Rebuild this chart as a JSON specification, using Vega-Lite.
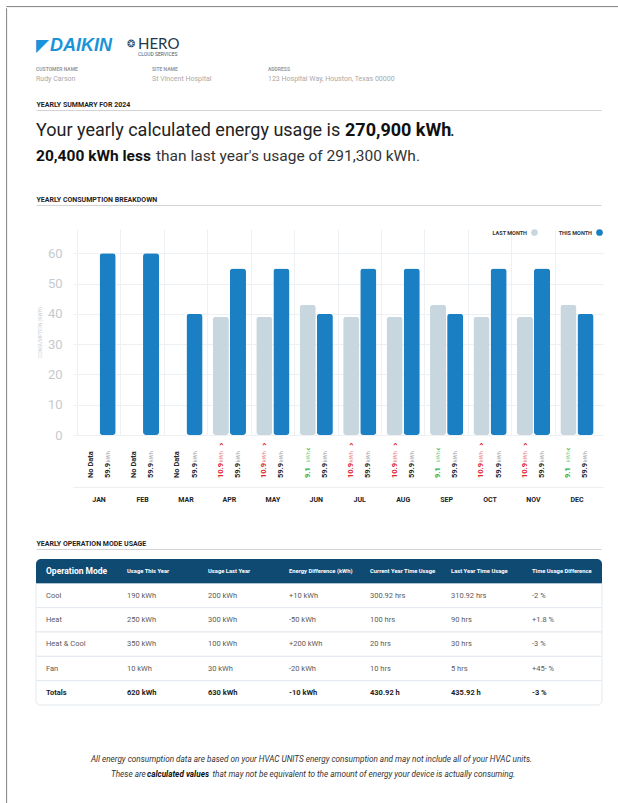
{
  "$schema": "https://vega.github.io/schema/vega-lite/v6.json",
  "background": "#ffffff",
  "padding": {"left": 5, "top": 5, "right": 0, "bottom": 0},
  "config": {"view": {"stroke": null}, "font": "Roboto", "concat": {"spacing": 0}},
  "datasets": {
    "blank": [{}],
    "logos": [{"brand": "DAIKIN", "tagline": ""}, {"brand": "HERO", "tagline": "CLOUD SERVICES"}],
    "customer": [
      {"field": "CUSTOMER NAME", "value": "Rudy Carson"},
      {"field": "SITE NAME", "value": "St Vincent Hospital"},
      {"field": "ADDRESS", "value": "123 Hospital Way, Houston, Texas 00000"}
    ],
    "summary": [{"usageText": "Your yearly calculated energy usage is", "usage": "270,900 kWh", "diffText": "20,400 kWh less", "compareText": "than last year's usage of 291,300 kWh."}],
    "monthly": [
      {"month": "JAN", "series": "Last Month", "kwh": null, "label": "No Data", "unit": "", "trend": "none"},
      {"month": "JAN", "series": "This Month", "kwh": 60, "label": "59.9", "unit": "kWh", "trend": "current"},
      {"month": "FEB", "series": "Last Month", "kwh": null, "label": "No Data", "unit": "", "trend": "none"},
      {"month": "FEB", "series": "This Month", "kwh": 60, "label": "59.9", "unit": "kWh", "trend": "current"},
      {"month": "MAR", "series": "Last Month", "kwh": null, "label": "No Data", "unit": "", "trend": "none"},
      {"month": "MAR", "series": "This Month", "kwh": 40, "label": "59.9", "unit": "kWh", "trend": "current"},
      {"month": "APR", "series": "Last Month", "kwh": 39, "label": "10.9", "unit": "kWh", "trend": "up"},
      {"month": "APR", "series": "This Month", "kwh": 55, "label": "59.9", "unit": "kWh", "trend": "current"},
      {"month": "MAY", "series": "Last Month", "kwh": 39, "label": "10.9", "unit": "kWh", "trend": "up"},
      {"month": "MAY", "series": "This Month", "kwh": 55, "label": "59.9", "unit": "kWh", "trend": "current"},
      {"month": "JUN", "series": "Last Month", "kwh": 43, "label": "9.1", "unit": "kWh", "trend": "down"},
      {"month": "JUN", "series": "This Month", "kwh": 40, "label": "59.9", "unit": "kWh", "trend": "current"},
      {"month": "JUL", "series": "Last Month", "kwh": 39, "label": "10.9", "unit": "kWh", "trend": "up"},
      {"month": "JUL", "series": "This Month", "kwh": 55, "label": "59.9", "unit": "kWh", "trend": "current"},
      {"month": "AUG", "series": "Last Month", "kwh": 39, "label": "10.9", "unit": "kWh", "trend": "up"},
      {"month": "AUG", "series": "This Month", "kwh": 55, "label": "59.9", "unit": "kWh", "trend": "current"},
      {"month": "SEP", "series": "Last Month", "kwh": 43, "label": "9.1", "unit": "kWh", "trend": "down"},
      {"month": "SEP", "series": "This Month", "kwh": 40, "label": "59.9", "unit": "kWh", "trend": "current"},
      {"month": "OCT", "series": "Last Month", "kwh": 39, "label": "10.9", "unit": "kWh", "trend": "up"},
      {"month": "OCT", "series": "This Month", "kwh": 55, "label": "59.9", "unit": "kWh", "trend": "current"},
      {"month": "NOV", "series": "Last Month", "kwh": 39, "label": "10.9", "unit": "kWh", "trend": "up"},
      {"month": "NOV", "series": "This Month", "kwh": 55, "label": "59.9", "unit": "kWh", "trend": "current"},
      {"month": "DEC", "series": "Last Month", "kwh": 43, "label": "9.1", "unit": "kWh", "trend": "down"},
      {"month": "DEC", "series": "This Month", "kwh": 40, "label": "59.9", "unit": "kWh", "trend": "current"}
    ],
    "modes": [
      {"row": "Header", "col": "Operation Mode", "value": "Operation Mode"},
      {"row": "Header", "col": "Usage This Year", "value": "Usage This Year"},
      {"row": "Header", "col": "Usage Last Year", "value": "Usage Last Year"},
      {"row": "Header", "col": "Energy Difference (kWh)", "value": "Energy Difference (kWh)"},
      {"row": "Header", "col": "Current Year Time Usage", "value": "Current Year Time Usage"},
      {"row": "Header", "col": "Last Year Time Usage", "value": "Last Year Time Usage"},
      {"row": "Header", "col": "Time Usage Difference", "value": "Time Usage Difference"},
      {"row": "Cool", "col": "Operation Mode", "value": "Cool"},
      {"row": "Cool", "col": "Usage This Year", "value": "190 kWh"},
      {"row": "Cool", "col": "Usage Last Year", "value": "200 kWh"},
      {"row": "Cool", "col": "Energy Difference (kWh)", "value": "+10 kWh"},
      {"row": "Cool", "col": "Current Year Time Usage", "value": "300.92 hrs"},
      {"row": "Cool", "col": "Last Year Time Usage", "value": "310.92 hrs"},
      {"row": "Cool", "col": "Time Usage Difference", "value": "-2 %"},
      {"row": "Heat", "col": "Operation Mode", "value": "Heat"},
      {"row": "Heat", "col": "Usage This Year", "value": "250 kWh"},
      {"row": "Heat", "col": "Usage Last Year", "value": "300 kWh"},
      {"row": "Heat", "col": "Energy Difference (kWh)", "value": "-50 kWh"},
      {"row": "Heat", "col": "Current Year Time Usage", "value": "100 hrs"},
      {"row": "Heat", "col": "Last Year Time Usage", "value": "90 hrs"},
      {"row": "Heat", "col": "Time Usage Difference", "value": "+1.8 %"},
      {"row": "Heat & Cool", "col": "Operation Mode", "value": "Heat & Cool"},
      {"row": "Heat & Cool", "col": "Usage This Year", "value": "350 kWh"},
      {"row": "Heat & Cool", "col": "Usage Last Year", "value": "100 kWh"},
      {"row": "Heat & Cool", "col": "Energy Difference (kWh)", "value": "+200 kWh"},
      {"row": "Heat & Cool", "col": "Current Year Time Usage", "value": "20 hrs"},
      {"row": "Heat & Cool", "col": "Last Year Time Usage", "value": "30 hrs"},
      {"row": "Heat & Cool", "col": "Time Usage Difference", "value": "-3 %"},
      {"row": "Fan", "col": "Operation Mode", "value": "Fan"},
      {"row": "Fan", "col": "Usage This Year", "value": "10 kWh"},
      {"row": "Fan", "col": "Usage Last Year", "value": "30 kWh"},
      {"row": "Fan", "col": "Energy Difference (kWh)", "value": "-20 kWh"},
      {"row": "Fan", "col": "Current Year Time Usage", "value": "10 hrs"},
      {"row": "Fan", "col": "Last Year Time Usage", "value": "5 hrs"},
      {"row": "Fan", "col": "Time Usage Difference", "value": "+45- %"},
      {"row": "Totals", "col": "Operation Mode", "value": "Totals"},
      {"row": "Totals", "col": "Usage This Year", "value": "620 kWh"},
      {"row": "Totals", "col": "Usage Last Year", "value": "630 kWh"},
      {"row": "Totals", "col": "Energy Difference (kWh)", "value": "-10 kWh"},
      {"row": "Totals", "col": "Current Year Time Usage", "value": "430.92 h"},
      {"row": "Totals", "col": "Last Year Time Usage", "value": "435.92 h"},
      {"row": "Totals", "col": "Time Usage Difference", "value": "-3 %"}
    ],
    "footer": [{"line1": "All energy consumption data are based on your HVAC UNITS energy consumption and may not include all of your HVAC units.", "pre": "These are", "bold": "calculated values", "post": "that may not be equivalent to the amount of energy your device is actually consuming."}]
  },
  "spacing": 0,
  "vconcat": [
    {"width": 613, "height": 0.1, "view": {"stroke": "#8c8c8c"}, "data": {"name": "blank"}, "mark": {"type": "text", "text": "", "fontSize": 0}, "encoding": {}},
    {
      "spacing": 28,
      "hconcat": [
        {"width": 0.1, "height": 798, "view": {"stroke": "#8c8c8c"}, "data": {"name": "blank"}, "mark": {"type": "text", "text": "", "fontSize": 0}, "encoding": {}},
        {
          "spacing": 0,
          "vconcat": [
            {
              "width": 565, "height": 52,
              "data": {"name": "logos"},
              "encoding": {"x": {"field": "brand", "type": "nominal", "scale": {"type": "point", "domain": ["DAIKIN", "HERO"], "range": [14, 102], "padding": 0}, "axis": null}},
              "layer": [
                {"transform": [{"filter": "datum.brand == 'DAIKIN'"}], "mark": {"type": "text", "text": "◤", "font": "DejaVu Sans", "fontSize": 17, "color": "#1a93d8", "align": "left", "baseline": "middle", "dx": -14, "dy": 12}},
                {"transform": [{"filter": "datum.brand == 'DAIKIN'"}], "mark": {"type": "text", "font": "Liberation Sans", "fontSize": 18, "fontWeight": "bold", "fontStyle": "italic", "color": "#1a93d8", "align": "left", "baseline": "middle", "dy": 12}, "encoding": {"text": {"field": "brand"}}},
                {"transform": [{"filter": "datum.brand == 'HERO'"}], "mark": {"type": "text", "text": "❂", "font": "DejaVu Sans", "fontSize": 10, "color": "#22384d", "align": "left", "baseline": "middle", "dx": -11, "dy": 10}},
                {"transform": [{"filter": "datum.brand == 'HERO'"}], "mark": {"type": "text", "font": "Lato", "fontSize": 15, "color": "#22384d", "align": "left", "baseline": "middle", "dy": 10}, "encoding": {"text": {"field": "brand"}}},
                {"transform": [{"filter": "datum.brand == 'HERO'"}], "mark": {"type": "text", "fontSize": 5, "color": "#4a5b6b", "align": "left", "baseline": "middle", "dy": 20}, "encoding": {"text": {"field": "tagline"}}}
              ]
            },
            {
              "width": 565, "height": 40,
              "data": {"name": "customer"},
              "encoding": {"x": {"field": "field", "type": "nominal", "scale": {"type": "point", "domain": ["CUSTOMER NAME", "SITE NAME", "ADDRESS"], "range": [0, 232], "padding": 0}, "axis": null}},
              "layer": [
                {"mark": {"type": "text", "align": "left", "baseline": "middle", "dy": -11, "fontSize": 5, "fontWeight": "bold", "color": "#9b9b9b"}, "encoding": {"text": {"field": "field"}}},
                {"mark": {"type": "text", "align": "left", "baseline": "middle", "dy": -1, "fontSize": 7, "color": "#a9a9a9"}, "encoding": {"text": {"field": "value"}}}
              ]
            },
            {
              "width": 565, "height": 95,
              "data": {"name": "summary"},
              "encoding": {"x": {"datum": 0, "type": "quantitative", "scale": {"domain": [0, 1], "nice": false}, "axis": {"orient": "top", "offset": -10, "domain": true, "domainColor": "#d3d3d3", "ticks": false, "labels": false, "grid": false, "title": "YEARLY SUMMARY FOR 2024", "titleAnchor": "start", "titleAlign": "left", "titleFontSize": 7, "titleFontWeight": "bold", "titleColor": "#1e1e1e", "titlePadding": 3}}},
              "layer": [
                {"mark": {"type": "text", "align": "left", "baseline": "middle", "fontSize": 18, "color": "#222222", "dy": -16.5}, "encoding": {"text": {"field": "usageText"}}},
                {"mark": {"type": "text", "align": "left", "baseline": "middle", "fontSize": 18, "fontWeight": "bold", "color": "#111111", "dx": 309, "dy": -16.5}, "encoding": {"text": {"field": "usage"}}},
                {"mark": {"type": "text", "text": ".", "align": "left", "baseline": "middle", "fontSize": 18, "color": "#222222", "dx": 414, "dy": -16.5}},
                {"mark": {"type": "text", "align": "left", "baseline": "middle", "fontSize": 15.5, "fontWeight": "bold", "color": "#111111", "dy": 8.5}, "encoding": {"text": {"field": "diffText"}}},
                {"mark": {"type": "text", "align": "left", "baseline": "middle", "fontSize": 15.5, "color": "#333333", "dx": 120, "dy": 8.5}, "encoding": {"text": {"field": "compareText"}}}
              ]
            },
            {
              "width": 565, "height": 33,
              "data": {"name": "blank"},
              "mark": {"type": "text", "text": "", "fontSize": 0},
              "encoding": {"x": {"datum": 0, "type": "quantitative", "scale": {"domain": [0, 1], "nice": false}, "axis": {"orient": "top", "offset": -9, "domain": true, "domainColor": "#d3d3d3", "ticks": false, "labels": false, "grid": false, "title": "YEARLY CONSUMPTION BREAKDOWN", "titleAnchor": "start", "titleAlign": "left", "titleFontSize": 7, "titleFontWeight": "bold", "titleColor": "#1e1e1e", "titlePadding": 3}}}
            },
            {
              "spacing": 0,
              "hconcat": [
                {"width": 0.1, "height": 0.1, "data": {"name": "blank"}, "mark": {"type": "text", "text": "", "fontSize": 0}, "encoding": {}},
                {
                  "width": 530, "height": 206,
                  "data": {"name": "monthly"},
                  "encoding": {
                    "x": {"field": "month", "type": "ordinal", "sort": ["JAN", "FEB", "MAR", "APR", "MAY", "JUN", "JUL", "AUG", "SEP", "OCT", "NOV", "DEC"], "scale": {"paddingInner": 0, "paddingOuter": 0.1}, "axis": null},
                    "xOffset": {"field": "series", "type": "nominal", "sort": ["Last Month", "This Month"], "scale": {"paddingInner": 0.06, "paddingOuter": 0.3}}
                  },
                  "layer": [
                    {
                      "transform": [{"filter": "isValid(datum.kwh)"}],
                      "mark": {"type": "bar", "cornerRadius": 3},
                      "encoding": {
                        "x": {"field": "month", "type": "ordinal", "sort": ["JAN", "FEB", "MAR", "APR", "MAY", "JUN", "JUL", "AUG", "SEP", "OCT", "NOV", "DEC"], "scale": {"paddingInner": 0, "paddingOuter": 0.1}, "axis": {"orient": "bottom", "offset": 52, "title": null, "labelAngle": 0, "labelFontSize": 7, "labelFontWeight": "bold", "labelColor": "#222222", "labelPadding": 8, "ticks": false, "domainColor": "#eceff1", "grid": false}},
                        "y": {"field": "kwh", "type": "quantitative", "scale": {"domain": [0, 68], "nice": false}, "axis": {"values": [0, 10, 20, 30, 40, 50, 60], "domain": false, "ticks": false, "grid": true, "gridColor": "#eef1f3", "labelFontSize": 13, "labelColor": "#c3cbd1", "labelPadding": 11, "title": "CONSUMPTION (KWH)", "titleFontSize": 5, "titleFontWeight": "normal", "titleColor": "#c8d0d6", "titlePadding": 4.5}},
                        "color": {"field": "series", "type": "nominal", "scale": {"domain": ["Last Month", "This Month"], "range": ["#c8d7df", "#1b7fc4"]}, "legend": {"orient": "top-right", "offset": 0, "direction": "horizontal", "title": null, "labelAlign": "right", "labelOffset": -11, "labelFontSize": 5.5, "labelFontWeight": "bold", "labelColor": "#333333", "symbolType": "circle", "symbolSize": 45, "symbolStrokeWidth": 0, "columnPadding": 20, "labelExpr": "upper(datum.label)", "padding": 0}}
                      }
                    },
                    {
                      "mark": {"type": "text", "angle": 270, "align": "left", "baseline": "middle", "dx": -43, "fontSize": 7.5, "fontWeight": "bold"},
                      "encoding": {
                        "x": {"field": "month", "type": "ordinal", "sort": ["JAN", "FEB", "MAR", "APR", "MAY", "JUN", "JUL", "AUG", "SEP", "OCT", "NOV", "DEC"], "scale": {"paddingInner": 0, "paddingOuter": 0.1}, "axis": {"orient": "top", "grid": true, "gridColor": "#eef1f3", "bandPosition": 0, "labels": false, "ticks": false, "domain": false, "title": null}},
                        "y": {"datum": 0, "type": "quantitative", "axis": null},
                        "text": {"field": "label"},
                        "color": {"field": "trend", "type": "nominal", "scale": {"domain": ["none", "current", "up", "down"], "range": ["#262626", "#262626", "#e0282c", "#35b24a"]}, "legend": null}
                      }
                    },
                    {
                      "transform": [{"filter": "datum.unit != ''"}],
                      "mark": {"type": "text", "angle": 270, "align": "left", "baseline": "middle", "dx": -27, "fontSize": 5.5},
                      "encoding": {
                        "y": {"datum": 0, "type": "quantitative", "axis": null},
                        "text": {"field": "unit"},
                        "color": {"field": "trend", "type": "nominal", "scale": {"domain": ["none", "current", "up", "down"], "range": ["#9aa0a6", "#9aa0a6", "#ea7a7a", "#7fcf86"]}, "legend": null}
                      }
                    },
                    {
                      "transform": [{"filter": "datum.trend == 'up'"}],
                      "mark": {"type": "text", "text": "›", "font": "DejaVu Sans", "angle": 270, "align": "left", "baseline": "middle", "dx": -11, "fontSize": 9, "fontWeight": "bold", "color": "#e0282c"},
                      "encoding": {"y": {"datum": 0, "type": "quantitative", "axis": null}}
                    },
                    {
                      "transform": [{"filter": "datum.trend == 'down'"}],
                      "mark": {"type": "text", "text": "‹", "font": "DejaVu Sans", "angle": 270, "align": "left", "baseline": "middle", "dx": -16, "fontSize": 9, "fontWeight": "bold", "color": "#35b24a"},
                      "encoding": {"y": {"datum": 0, "type": "quantitative", "axis": null}}
                    }
                  ],
                  "resolve": {"scale": {"color": "independent"}, "axis": {"x": "independent", "y": "independent"}}
                }
              ]
            },
            {
              "width": 565, "height": 57,
              "data": {"name": "blank"},
              "mark": {"type": "text", "text": "", "fontSize": 0},
              "encoding": {"x": {"datum": 0, "type": "quantitative", "scale": {"domain": [0, 1], "nice": false}, "axis": {"orient": "top", "offset": -47, "domain": true, "domainColor": "#d3d3d3", "ticks": false, "labels": false, "grid": false, "title": "YEARLY OPERATION MODE USAGE", "titleAnchor": "start", "titleAlign": "left", "titleFontSize": 7, "titleFontWeight": "bold", "titleColor": "#1e1e1e", "titlePadding": 3}}}
            },
            {
              "width": 566, "height": 146,
              "data": {"name": "modes"},
              "encoding": {
                "y": {"field": "row", "type": "nominal", "sort": ["Header", "Cool", "Heat", "Heat & Cool", "Fan", "Totals"], "scale": {"paddingInner": 0, "paddingOuter": 0}, "axis": null}
              },
              "layer": [
                {"transform": [{"filter": "datum.col == 'Operation Mode' && datum.row != 'Header' && datum.row != 'Totals'"}], "mark": {"type": "rect", "fill": "#ffffff", "stroke": "#e3e9ee", "strokeWidth": 1}},
                {"transform": [{"filter": "datum.col == 'Operation Mode' && datum.row == 'Totals'"}], "mark": {"type": "rect", "fill": "#ffffff", "stroke": "#e3e9ee", "strokeWidth": 1, "cornerRadiusBottomLeft": 4, "cornerRadiusBottomRight": 4}},
                {"transform": [{"filter": "datum.col == 'Operation Mode' && datum.row == 'Header'"}], "mark": {"type": "rect", "fill": "#0f4a73", "cornerRadiusTopLeft": 5, "cornerRadiusTopRight": 5}},
                {
                  "transform": [{"filter": "datum.row == 'Header' && datum.col == 'Operation Mode'"}],
                  "mark": {"type": "text", "align": "left", "baseline": "middle", "fontSize": 8.5, "fontWeight": "bold", "color": "#ffffff"},
                  "encoding": {"x": {"field": "col", "type": "nominal", "sort": ["Operation Mode", "Usage This Year", "Usage Last Year", "Energy Difference (kWh)", "Current Year Time Usage", "Last Year Time Usage", "Time Usage Difference"], "scale": {"type": "point", "range": [10, 496], "padding": 0}, "axis": null}, "text": {"field": "value"}}
                },
                {
                  "transform": [{"filter": "datum.row == 'Header' && datum.col != 'Operation Mode'"}],
                  "mark": {"type": "text", "align": "left", "baseline": "middle", "fontSize": 5.8, "fontWeight": "bold", "color": "#ffffff"},
                  "encoding": {"x": {"field": "col", "type": "nominal", "sort": ["Operation Mode", "Usage This Year", "Usage Last Year", "Energy Difference (kWh)", "Current Year Time Usage", "Last Year Time Usage", "Time Usage Difference"], "scale": {"type": "point", "range": [10, 496], "padding": 0}, "axis": null}, "text": {"field": "value"}}
                },
                {
                  "transform": [{"filter": "datum.row != 'Header' && datum.row != 'Totals'"}],
                  "mark": {"type": "text", "align": "left", "baseline": "middle", "fontSize": 7.5, "color": "#5a5a5a"},
                  "encoding": {"x": {"field": "col", "type": "nominal", "sort": ["Operation Mode", "Usage This Year", "Usage Last Year", "Energy Difference (kWh)", "Current Year Time Usage", "Last Year Time Usage", "Time Usage Difference"], "scale": {"type": "point", "range": [10, 496], "padding": 0}, "axis": null}, "text": {"field": "value"}}
                },
                {
                  "transform": [{"filter": "datum.row == 'Totals'"}],
                  "mark": {"type": "text", "align": "left", "baseline": "middle", "fontSize": 7.5, "fontWeight": "bold", "color": "#1e1e1e"},
                  "encoding": {"x": {"field": "col", "type": "nominal", "sort": ["Operation Mode", "Usage This Year", "Usage Last Year", "Energy Difference (kWh)", "Current Year Time Usage", "Last Year Time Usage", "Time Usage Difference"], "scale": {"type": "point", "range": [10, 496], "padding": 0}, "axis": null}, "text": {"field": "value"}}
                }
              ]
            },
            {
              "width": 551, "height": 84,
              "data": {"name": "footer"},
              "layer": [
                {"mark": {"type": "text", "align": "center", "baseline": "middle", "fontSize": 8.2, "fontStyle": "italic", "color": "#333333", "dy": 12}, "encoding": {"text": {"field": "line1"}}},
                {"mark": {"type": "text", "align": "left", "baseline": "middle", "fontSize": 8.2, "fontStyle": "italic", "color": "#333333", "dx": -200.5, "dy": 27}, "encoding": {"text": {"field": "pre"}}},
                {"mark": {"type": "text", "align": "left", "baseline": "middle", "fontSize": 8.2, "fontStyle": "italic", "fontWeight": "bold", "color": "#111111", "dx": -164.5, "dy": 27}, "encoding": {"text": {"field": "bold"}}},
                {"mark": {"type": "text", "align": "left", "baseline": "middle", "fontSize": 8.2, "fontStyle": "italic", "color": "#333333", "dx": -99, "dy": 27}, "encoding": {"text": {"field": "post"}}}
              ]
            }
          ]
        }
      ]
    }
  ]
}
